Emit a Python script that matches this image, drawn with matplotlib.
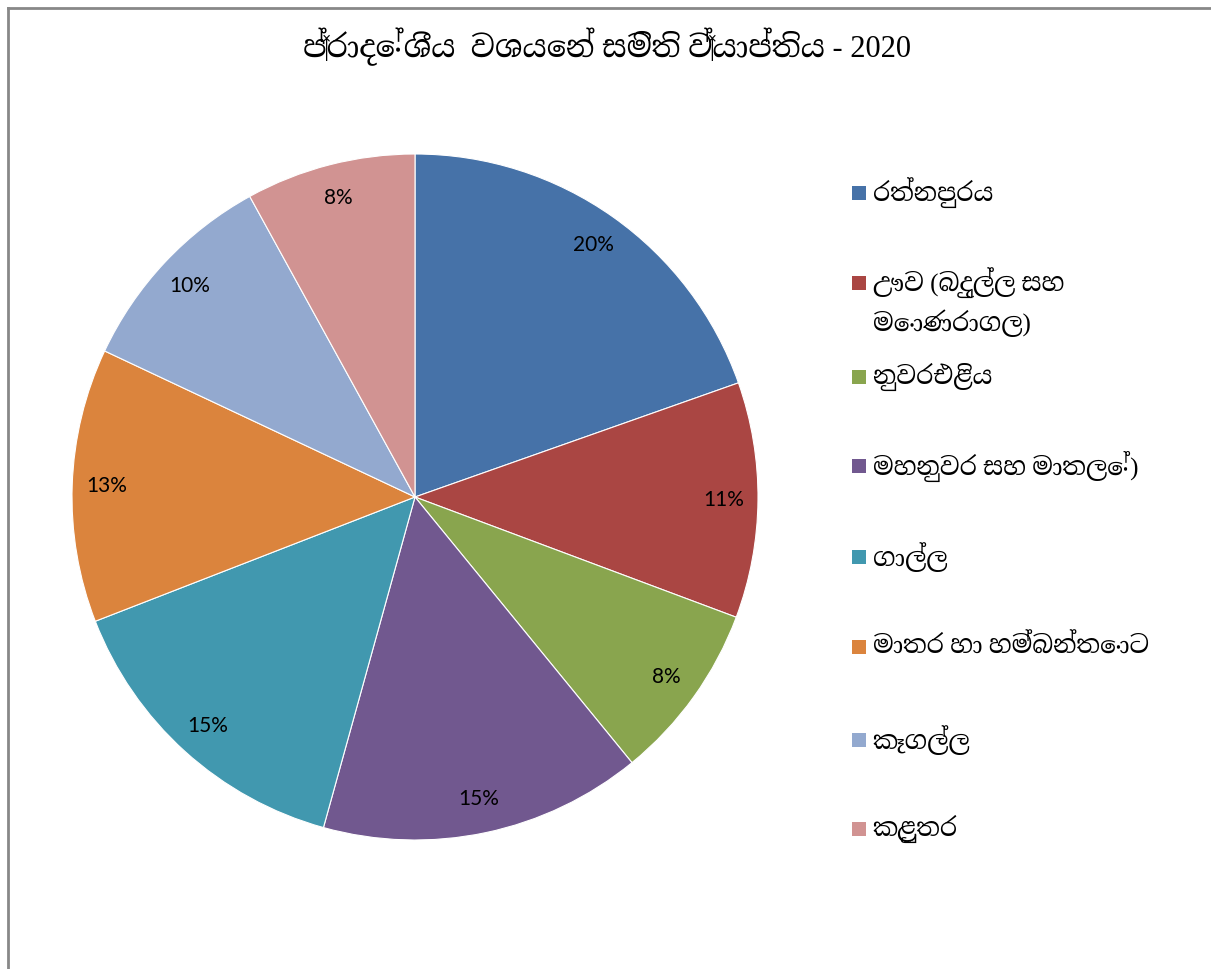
import matplotlib
matplotlib.use("Agg")
import matplotlib.pyplot as plt
from matplotlib.patches import Rectangle
from matplotlib.lines import Line2D

title = "ප්‍රාදේශීය  වශයෙන් සමිති ව්‍යාප්තිය - 2020"
categories = [
    "රත්නපුරය",
    "ඌව (බදුල්ල සහ\nමොණරාගල)",
    "නුවරඑළිය",
    "මහනුවර සහ මාතලේ)",
    "ගාල්ල",
    "මාතර හා හම්බන්තොට",
    "කෑගල්ල",
    "කළුතර",
]
values = [19.6, 11.1, 8.4, 15.2, 14.8, 12.9, 10.0, 8.0]
colors = ["#4672A8", "#AA4643", "#89A54E", "#71588F",
          "#4198AF", "#DB843D", "#93A9CF", "#D19392"]

SIN = ["Liberation Serif", "Noto Serif Sinhala", "DejaVu Sans"]

W, H = 1211, 969
fig = plt.figure(figsize=(W / 100, H / 100), dpi=100)
fig.patch.set_facecolor("white")

# border (left and top)
fig.add_artist(Line2D([8 / W, 8 / W], [0, 1 - 8 / H], transform=fig.transFigure,
                      color="#888888", lw=2))
fig.add_artist(Line2D([8 / W, 1], [1 - 8 / H, 1 - 8 / H], transform=fig.transFigure,
                      color="#888888", lw=2))

cx, cy, R = 415, 497, 343
ax = fig.add_axes([(cx - R) / W, (H - cy - R) / H, 2 * R / W, 2 * R / H])
wedges, texts, autotexts = ax.pie(
    values, colors=colors, startangle=90, counterclock=False,
    autopct=lambda p: f"{round(p):.0f}%", pctdistance=0.9, radius=1,
    wedgeprops=dict(edgecolor="white", linewidth=0.8),
    textprops=dict(fontsize=15, family=["Lato", "DejaVu Sans"], color="black"))
ax.set_xlim(-1, 1)
ax.set_ylim(-1, 1)
ax.set_aspect("equal")
ax.axis("off")

fig.text(607 / W, 1 - 47 / H, title, ha="center", va="center", fontsize=22,
         family=SIN)

# legend
ys = [193, 283, 377, 466, 557, 647, 740, 829]
sq = 14
for lab, col, y in zip(categories, colors, ys):
    fig.add_artist(Rectangle((852 / W, (H - y - sq / 2) / H), sq / W, sq / H,
                             transform=fig.transFigure, facecolor=col, edgecolor="none"))
    for i, line in enumerate(lab.split("\n")):
        fig.text(873 / W, 1 - (y + 40 * i) / H, line, ha="left", va="center",
                 fontsize=18, family=SIN)

fig.savefig("out.png", dpi=100)
